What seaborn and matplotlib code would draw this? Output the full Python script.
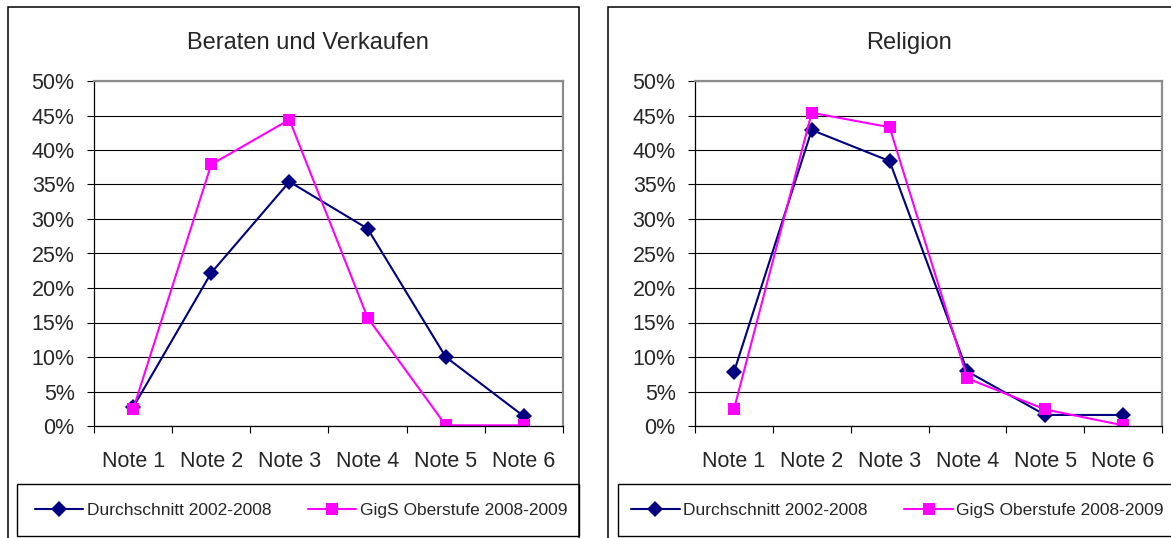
import numpy as np
import pandas as pd
import matplotlib
matplotlib.use("Agg")
import matplotlib.pyplot as plt
from matplotlib.patches import Rectangle
from matplotlib.ticker import PercentFormatter, FixedLocator, MultipleLocator
import seaborn as sns

# Data
categories = ["Note 1", "Note 2", "Note 3", "Note 4", "Note 5", "Note 6"]
series_names = ["Durchschnitt 2002-2008", "GigS Oberstufe 2008-2009"]

beraten_avg = [0.027, 0.222, 0.354, 0.286, 0.100, 0.014]
beraten_gigs = [0.024, 0.379, 0.444, 0.157, 0.001, 0.001]

religion_avg = [0.078, 0.429, 0.384, 0.079, 0.016, 0.016]
religion_gigs = [0.024, 0.454, 0.433, 0.069, 0.024, 0.001]

titles = ["Beraten und Verkaufen", "Religion"]

NAVY = "#000080"
MAGENTA = "#FF00FF"

sns.set_theme(style="white")
plt.rcParams["font.family"] = ["Liberation Sans", "DejaVu Sans"]

W, H = 1171, 538
fig = plt.figure(figsize=(W / 100, H / 100), dpi=100)


def fx(px):
    return px / W


def fy(py):
    return 1 - py / H


def make_df(avg, gigs):
    pos = np.arange(len(categories))
    return pd.DataFrame({
        "pos": np.concatenate([pos, pos]),
        "value": np.concatenate([avg, gigs]),
        "series": [series_names[0]] * len(pos) + [series_names[1]] * len(pos),
    })


panels = [
    dict(data=make_df(beraten_avg, beraten_gigs), plot=(94, 563), frame=(8, 579),
         legend=(17, 579), title_x=308),
    dict(data=make_df(religion_avg, religion_gigs), plot=(695, 1162), frame=(608, 1200),
         legend=(618, 1200), title_x=909),
]

top_px, bot_px = 81, 426

for title, p in zip(titles, panels):
    # outer chart frame
    x0, x1 = p["frame"]
    fig.patches.append(Rectangle((fx(x0), fy(545)), fx(x1 - x0), (545 - 7) / H,
                                 transform=fig.transFigure, fill=False,
                                 edgecolor="black", linewidth=1.1))
    # legend box
    lx0, lx1 = p["legend"]
    fig.patches.append(Rectangle((fx(lx0), fy(536)), fx(lx1 - lx0), (536 - 484) / H,
                                 transform=fig.transFigure, fill=False,
                                 edgecolor="black", linewidth=1.0))

    px0, px1 = p["plot"]
    ax = fig.add_axes([fx(px0), fy(bot_px), fx(px1 - px0), (bot_px - top_px) / H])

    sns.lineplot(data=p["data"], x="pos", y="value", hue="series", style="series",
                 palette={series_names[0]: NAVY, series_names[1]: MAGENTA},
                 markers={series_names[0]: "D", series_names[1]: "s"},
                 dashes=False, linewidth=1.5, markersize=8.5,
                 markeredgewidth=0, ax=ax)

    ax.set_xlim(-0.5, len(categories) - 0.5)
    ax.set_ylim(0, 0.5)
    ax.yaxis.set_major_locator(MultipleLocator(0.05))
    ax.yaxis.set_major_formatter(PercentFormatter(1.0, decimals=0))
    ax.grid(axis="y", color="black", linewidth=0.8)
    ax.grid(axis="x", visible=False)
    ax.set_axisbelow(True)

    # category ticks between groups, labels centered under each group
    ax.xaxis.set_major_locator(FixedLocator(np.arange(-0.5, len(categories), 1.0)))
    ax.xaxis.set_major_formatter(plt.NullFormatter())
    ax.xaxis.set_minor_locator(FixedLocator(np.arange(len(categories))))
    ax.set_xticks(np.arange(len(categories)), categories, minor=True)
    ax.tick_params(axis="x", which="major", direction="out", length=5,
                   width=0.8, color="black", bottom=True)
    ax.tick_params(axis="x", which="minor", length=0, pad=18, labelsize=15.5)
    ax.tick_params(axis="y", direction="out", length=5, width=0.8,
                   color="black", left=True, pad=9, labelsize=15.5)

    ax.set_xlabel("")
    ax.set_ylabel("")
    for side in ["left", "bottom"]:
        ax.spines[side].set_color("black")
        ax.spines[side].set_linewidth(0.9)
    for side in ["top", "right"]:
        ax.spines[side].set_color("#8c8c8c")
        ax.spines[side].set_linewidth(1.6)

    handles, labels = ax.get_legend_handles_labels()
    ax.get_legend().remove()
    cx = (lx0 + min(lx1, W)) / 2 + 3
    ax.legend(handles, labels, loc="center", ncol=2, frameon=False,
              bbox_to_anchor=(fx(cx), fy(510)), bbox_transform=fig.transFigure,
              fontsize=12.5, handlelength=2.8, handletextpad=0.2,
              columnspacing=2.1)

    fig.text(fx(p["title_x"]), fy(43), title, ha="center", va="center",
             fontsize=17)

fig.savefig("out.png", dpi=100)
